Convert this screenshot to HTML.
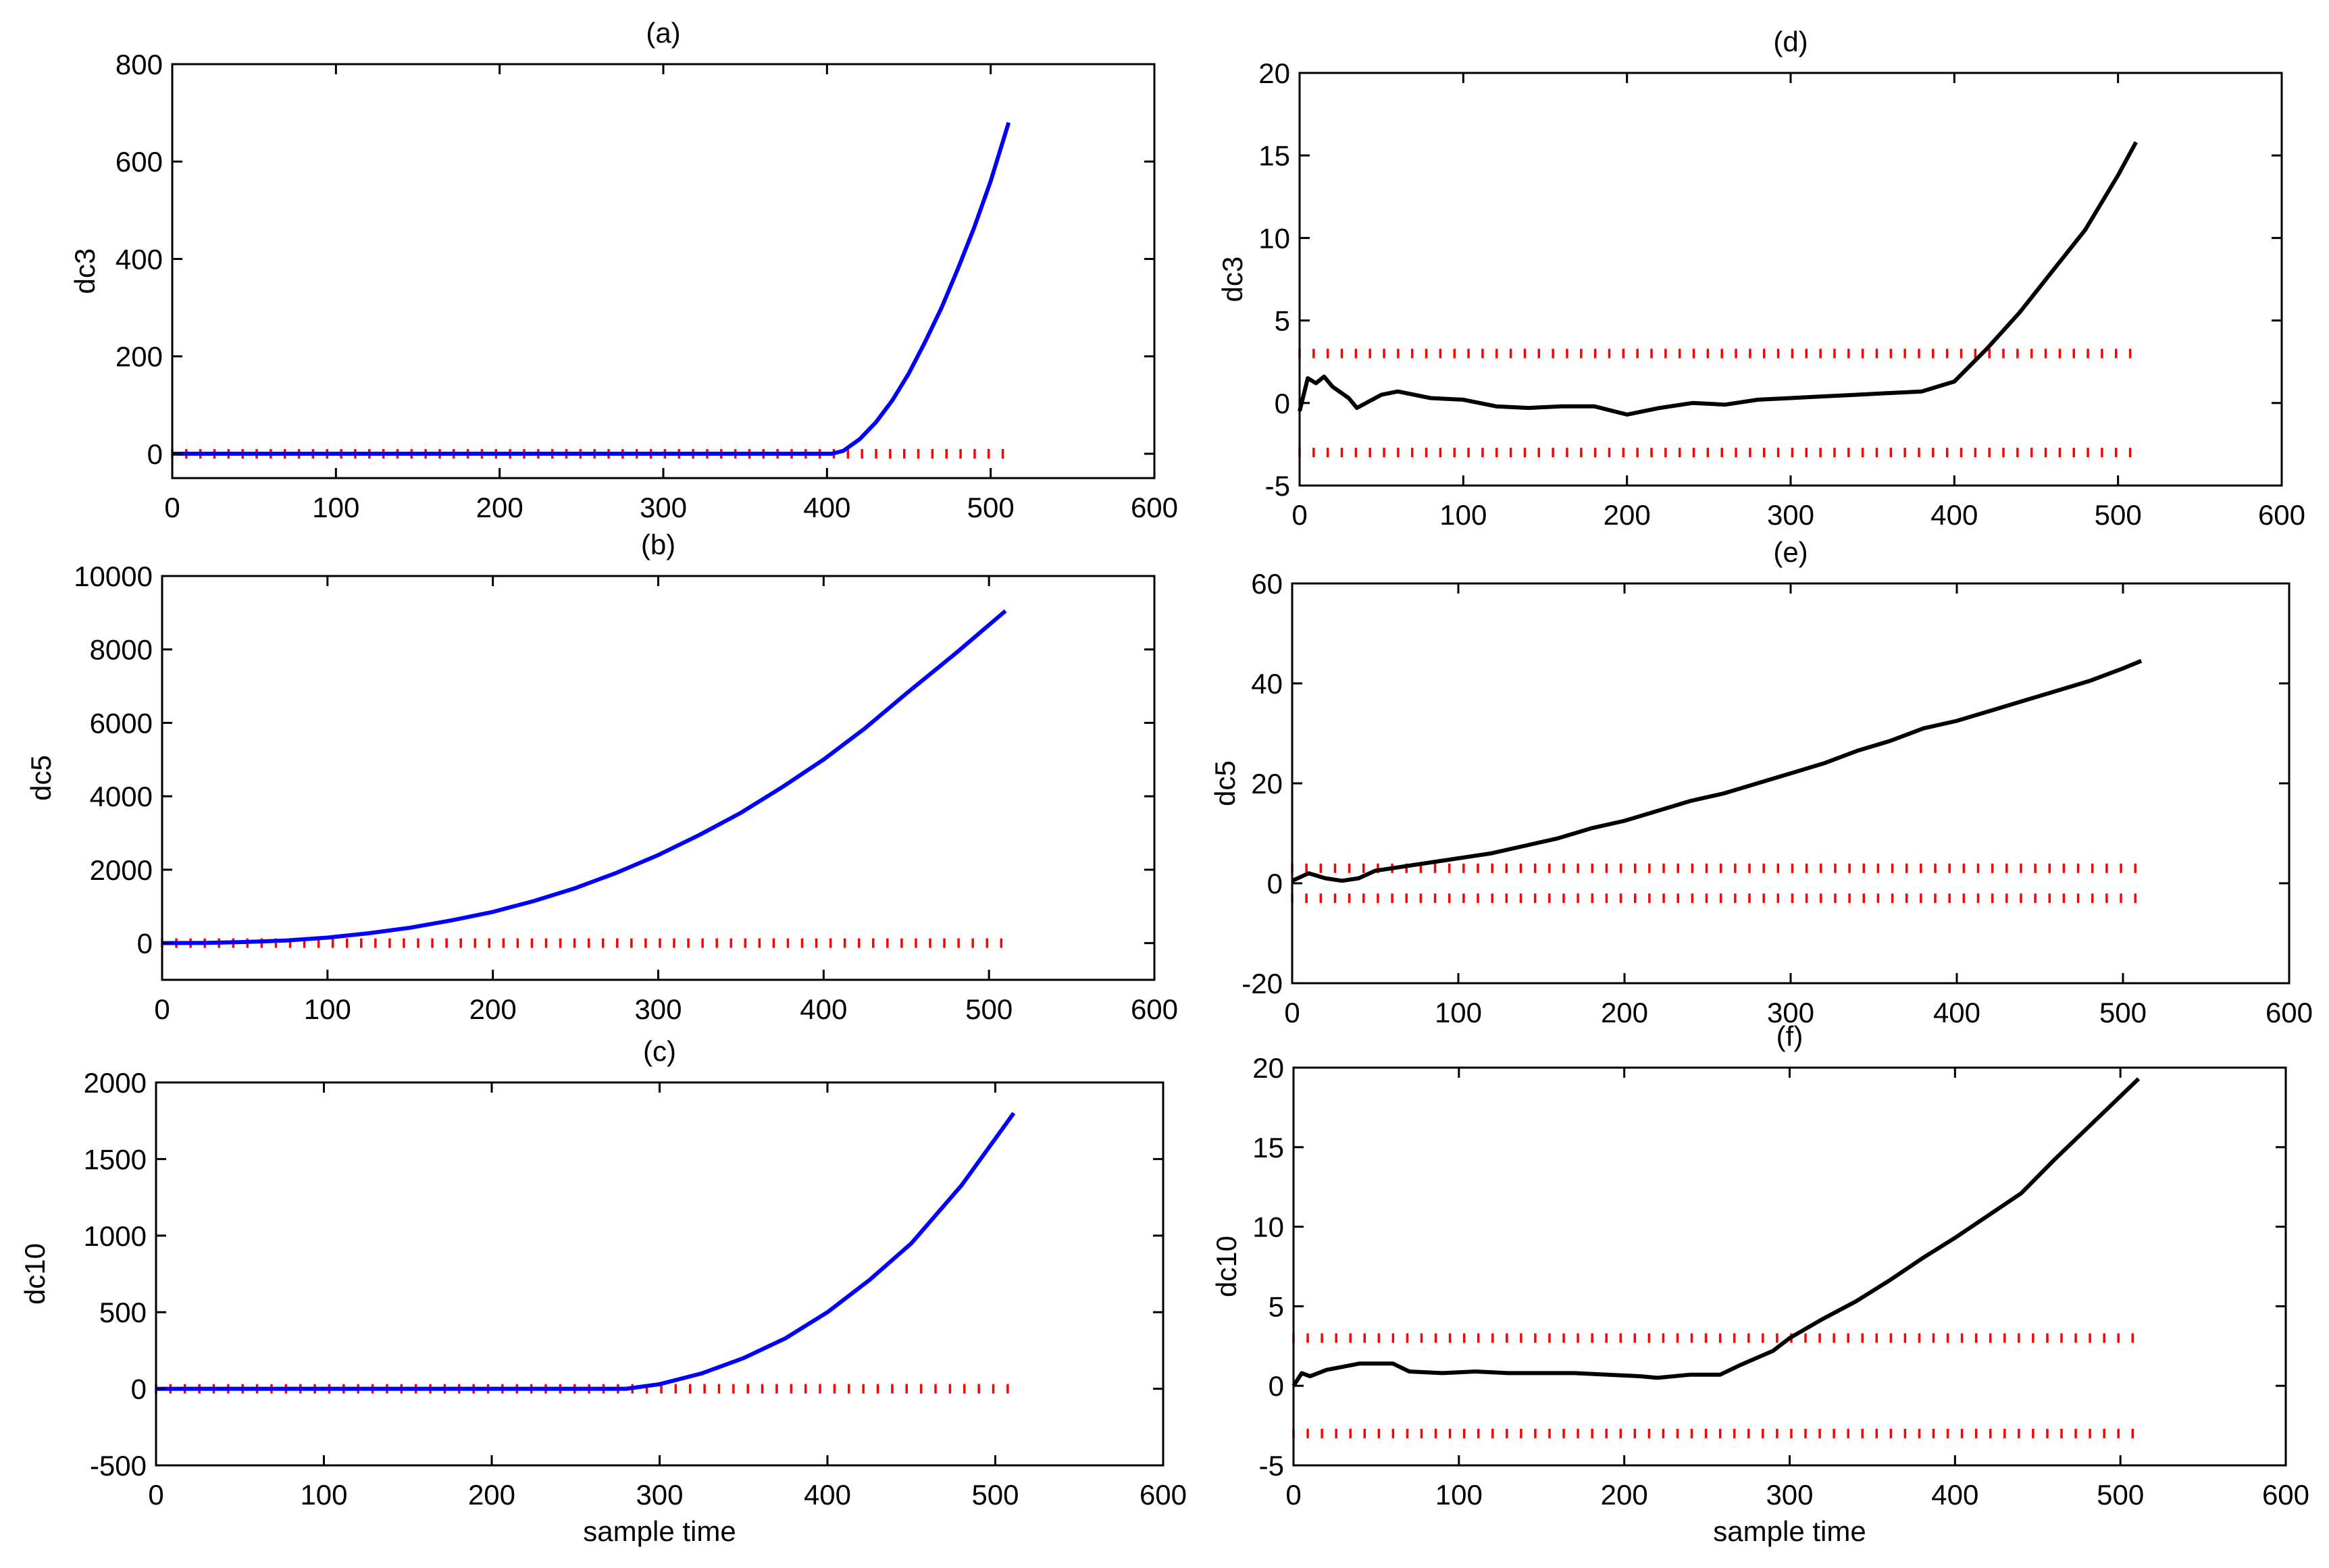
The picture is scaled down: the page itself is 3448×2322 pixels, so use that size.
<!DOCTYPE html>
<html><head><meta charset="utf-8"><style>
html,body{margin:0;padding:0;background:#fff}
svg{display:block;font-family:"Liberation Sans",sans-serif}
</style></head><body>
<svg id="fig" width="3448" height="2322" viewBox="0 0 3448 2322" xmlns="http://www.w3.org/2000/svg"></svg>
<script>
// ---- data ----
const xTicks=[0,100,200,300,400,500,600];
const aX=[0,100,200,300,400,403,410,420,430,440,450,460,470,480,490,500,511];
const aY=[0,0,0,0,0,0,6,30,65,110,165,230,300,380,465,560,680];
const bX=[0,25,50,75,100,125,150,175,200,225,250,275,300,325,350,375,400,425,450,480,510];
const bY=[0,5,30,70,150,270,420,620,850,1150,1500,1920,2400,2950,3550,4250,5000,5850,6800,7900,9050];
const cX=[0,100,200,280,300,325,350,375,400,425,450,480,511];
const cY=[0,0,0,0,30,100,200,330,500,710,950,1330,1800];
const dX=[0,5,10,15,20,30,35,50,60,80,100,120,140,160,180,200,220,240,260,280,300,320,340,360,380,400,420,440,460,480,500,511];
const dY=[-0.5,1.5,1.2,1.6,1.0,0.3,-0.3,0.5,0.7,0.3,0.2,-0.2,-0.3,-0.2,-0.2,-0.7,-0.3,0,-0.1,0.2,0.3,0.4,0.5,0.6,0.7,1.3,3.3,5.5,8,10.5,13.8,15.8];
const eX=[0,10,20,30,40,50,60,80,100,120,140,160,180,200,220,240,260,280,300,320,340,360,380,400,420,440,460,480,500,511];
const eY=[0.5,2,1,0.5,1,2.5,3,4,5,6,7.5,9,11,12.5,14.5,16.5,18,20,22,24,26.5,28.5,31,32.5,34.5,36.5,38.5,40.5,43,44.5];
const fX=[0,5,10,20,30,40,60,70,90,110,130,150,170,190,210,220,240,258,270,290,300,320,340,360,380,400,420,440,460,480,500,511];
const fY=[0,0.8,0.6,1.0,1.2,1.4,1.4,0.9,0.8,0.9,0.8,0.8,0.8,0.7,0.6,0.5,0.7,0.7,1.3,2.2,3,4.2,5.3,6.6,8,9.3,10.7,12.1,14.2,16.2,18.2,19.3];
const panels=[
 {id:'a',x0:255,x1:1709,y0:95,y1:708,ymin:-50,ymax:800,yt:[0,200,400,600,800],yl:'dc3',xs:aX,ys:aY,col:'#0000ff',th:[0]},
 {id:'b',x0:240,x1:1709,y0:853,y1:1451,ymin:-1000,ymax:10000,yt:[0,2000,4000,6000,8000,10000],yl:'dc5',xs:bX,ys:bY,col:'#0000ff',th:[0]},
 {id:'c',x0:231,x1:1722,y0:1603,y1:2170,ymin:-500,ymax:2000,yt:[-500,0,500,1000,1500,2000],yl:'dc10',xs:cX,ys:cY,col:'#0000ff',th:[0],xl:true},
 {id:'d',x0:1924,x1:3378,y0:108,y1:719,ymin:-5,ymax:20,yt:[-5,0,5,10,15,20],yl:'dc3',xs:dX,ys:dY,col:'#000',th:[3,-3]},
 {id:'e',x0:1913,x1:3389,y0:864,y1:1456,ymin:-20,ymax:60,yt:[-20,0,20,40,60],yl:'dc5',xs:eX,ys:eY,col:'#000',th:[3,-3]},
 {id:'f',x0:1915,x1:3384,y0:1581,y1:2170,ymin:-5,ymax:20,yt:[-5,0,5,10,15,20],yl:'dc10',xs:fX,ys:fY,col:'#000',th:[3,-3],xl:true}
];
const NS='http://www.w3.org/2000/svg';
const svg=document.getElementById('fig');
function mk(t,a,p){const e=document.createElementNS(NS,t);for(const k in a)e.setAttribute(k,a[k]);(p||svg).appendChild(e);return e;}
panels.forEach(p=>{
 const g=mk('g',{});
 
 
 const sx=v=>p.x0+(v-0)/(600-0)*(p.x1-p.x0);
 const sy=v=>p.y1-(v-p.ymin)/(p.ymax-p.ymin)*(p.y1-p.y0);
 p.th.forEach(t=>{
  const tg=mk('g',{stroke:'#ff0000','stroke-width':3.5},g);
  
  
  for(let x=0;x<=508;x+=8.6){mk('line',{x1:sx(x),x2:sx(x),y1:sy(t)-7,y2:sy(t)+7},tg);}
 });
 const d=p.xs.map((x,i)=>(i?'L':'M')+sx(x).toFixed(1)+' '+sy(p.ys[i]).toFixed(1)).join(' ');
 const path=mk('path',{d:d,fill:'none',stroke:p.col,'stroke-width':6,'stroke-linejoin':'round'},g);
 
 
 const box=mk('rect',{x:p.x0,y:p.y0,width:p.x1-p.x0,height:p.y1-p.y0,fill:'none',stroke:'#000','stroke-width':3},g);
 
 
 xTicks.forEach(t=>{
  const X=sx(t);
  mk('line',{x1:X,x2:X,y1:p.y1,y2:p.y1-15,stroke:'#000','stroke-width':3},g);
  mk('line',{x1:X,x2:X,y1:p.y0,y2:p.y0+15,stroke:'#000','stroke-width':3},g);
  const tx=mk('text',{x:X,y:p.y1+58,'font-size':42,'text-anchor':'middle'},g);
  tx.textContent=t;
  
  
 });
 p.yt.forEach(t=>{
  const Y=sy(t);
  mk('line',{x1:p.x0,x2:p.x0+15,y1:Y,y2:Y,stroke:'#000','stroke-width':3},g);
  mk('line',{x1:p.x1,x2:p.x1-15,y1:Y,y2:Y,stroke:'#000','stroke-width':3},g);
  const ty=mk('text',{x:p.x0-14,y:Y+15,'font-size':42,'text-anchor':'end'},g);
  ty.textContent=t;
  
  
 });
 const cx=(p.x0+p.x1)/2;
 const ti=mk('text',{x:cx,y:p.y0-32,'font-size':42,'text-anchor':'middle'},g);
 ti.textContent='('+p.id+')';
 
 
 const yly=(p.y0+p.y1)/2;
 const ylx=p.x0-(p.yt.some(v=>Math.abs(v)>=1000)?165:(p.yt.some(v=>Math.abs(v)>=100)?115:85));
 const yl=mk('text',{x:ylx,y:yly,'font-size':42,'text-anchor':'middle',transform:`rotate(-90 ${ylx} ${yly})`},g);
 yl.textContent=p.yl;
 
 
 if(p.xl){
  const xl=mk('text',{x:cx,y:p.y1+112,'font-size':42,'text-anchor':'middle'},g);
  xl.textContent='sample time';
  
  
 }
});
</script>
</body></html>
